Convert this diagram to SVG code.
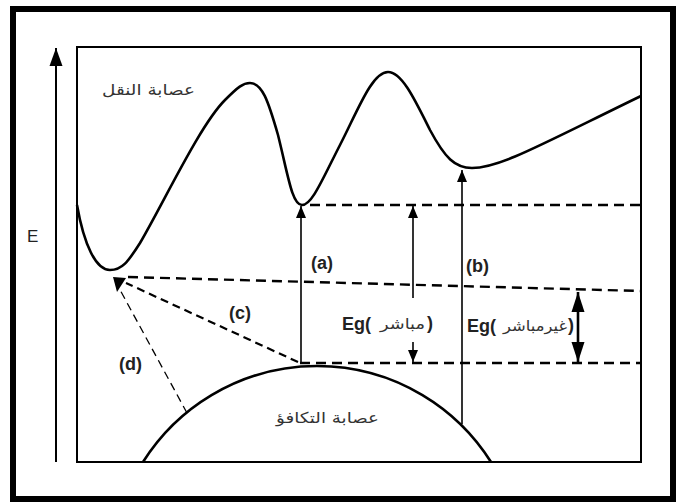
<svg xmlns="http://www.w3.org/2000/svg" width="676" height="502" viewBox="0 0 676 502">
<defs>
<style>
.ln{fill:none;stroke:#000;}
.thin{stroke-width:1.6;}
.dash{stroke-width:2.4;stroke-dasharray:10 6;}
.lbl{font-family:"Liberation Sans",Arial,sans-serif;font-weight:bold;font-size:18px;fill:#222;}
.ar{font-family:"DejaVu Sans",sans-serif;font-size:15px;fill:#333;}
</style>
<marker id="ah" markerUnits="userSpaceOnUse" markerWidth="12" markerHeight="14" viewBox="0 0 12 14" refX="12" refY="7" orient="auto">
<path d="M0,2 L12,7 L0,12 Z" fill="#000"/>
</marker>
<marker id="ahb" markerUnits="userSpaceOnUse" markerWidth="20" markerHeight="14" viewBox="0 0 20 14" refX="20" refY="7" orient="auto">
<path d="M0,0.5 L20,7 L0,13.5 Z" fill="#000"/>
</marker>
<marker id="ahE" markerUnits="userSpaceOnUse" markerWidth="18" markerHeight="14" viewBox="0 0 18 14" refX="18" refY="7" orient="auto">
<path d="M0,0.5 L18,7 L0,13.5 Z" fill="#000"/>
</marker>
</defs>
<rect x="0" y="0" width="676" height="502" fill="#fff"/>
<rect id="frame" x="13" y="9" width="660" height="490" fill="none" stroke="#000" stroke-width="6"/>
<g id="axis">
<line class="ln" x1="56" y1="462" x2="56" y2="48" stroke-width="2" marker-end="url(#ahE)"/>
<text x="27" y="242" font-family="Liberation Sans,Arial,sans-serif" font-size="17" fill="#222">E</text>
</g>
<rect id="plot" x="77" y="47" width="564" height="415" fill="none" stroke="#000" stroke-width="2"/>
<g id="conduction-band">
<path class="ln" stroke-width="2.6" d="M77,205 C84,245 96,270 110,270 C122,270 128,262 140,243 C165,200 200,125 225,100 C238,87 243,83 250,83 C262,83 268,100 278,135 C288,175 292,205 302,205 C312,205 322,180 340,145 C358,110 372,72 388,72 C402,72 415,100 430,130 C445,158 455,168 472,168 C500,168 540,145 641,96"/>
<text class="ar" x="102" y="95" textLength="93" lengthAdjust="spacingAndGlyphs">عصابة النقل</text>
</g>
<g id="valence-band">
<path class="ln" stroke-width="2.6" d="M143,462 A205.7,205.7 0 0 1 491,462"/>
<text class="ar" x="276" y="423" textLength="103" lengthAdjust="spacingAndGlyphs">عصابة التكافؤ</text>
</g>
<g id="connectors">
<line class="ln dash" x1="310" y1="205" x2="641" y2="205"/>
<line class="ln dash" x1="128" y1="277" x2="641" y2="291"/>
<line class="ln dash" x1="300" y1="363" x2="641" y2="363"/>
<line class="ln" stroke-width="2.2" stroke-dasharray="8 5" x1="298" y1="362" x2="126" y2="283"/>
<line class="ln" stroke-width="1.3" stroke-dasharray="8 5" x1="187" y1="413" x2="119" y2="288"/>
<polygon points="113,277 126,278 117,292" fill="#000"/>
<line class="ln thin" x1="301" y1="363" x2="301" y2="206" marker-end="url(#ah)"/>
<line class="ln thin" x1="413" y1="298" x2="413" y2="206" marker-end="url(#ah)"/>
<line class="ln thin" x1="413" y1="342" x2="413" y2="362" marker-end="url(#ah)"/>
<line class="ln thin" x1="462" y1="424" x2="462" y2="170" marker-end="url(#ah)"/>
<line class="ln" stroke-width="2.6" x1="578" y1="327" x2="578" y2="292" marker-end="url(#ahb)"/>
<line class="ln" stroke-width="2.6" x1="578" y1="327" x2="578" y2="362" marker-end="url(#ahb)"/>
</g>
<g id="labels">
<text class="lbl" x="311" y="269">(a)</text>
<text class="lbl" x="466" y="272">(b)</text>
<text class="lbl" x="229" y="319">(c)</text>
<text class="lbl" x="119" y="370">(d)</text>
<text class="lbl" x="342" y="330" font-size="20">Eg(</text>
<text class="ar" x="380" y="329" textLength="45" lengthAdjust="spacingAndGlyphs">مباشر</text>
<text class="lbl" x="427" y="329" font-size="17" font-weight="normal">)</text>
<text class="lbl" x="467" y="332" font-size="20">Eg(</text>
<text class="ar" x="503" y="331" textLength="64" lengthAdjust="spacingAndGlyphs">غيرمباشر</text>
<text class="lbl" x="568" y="331" font-size="17" font-weight="normal">)</text>
</g>
</svg>
